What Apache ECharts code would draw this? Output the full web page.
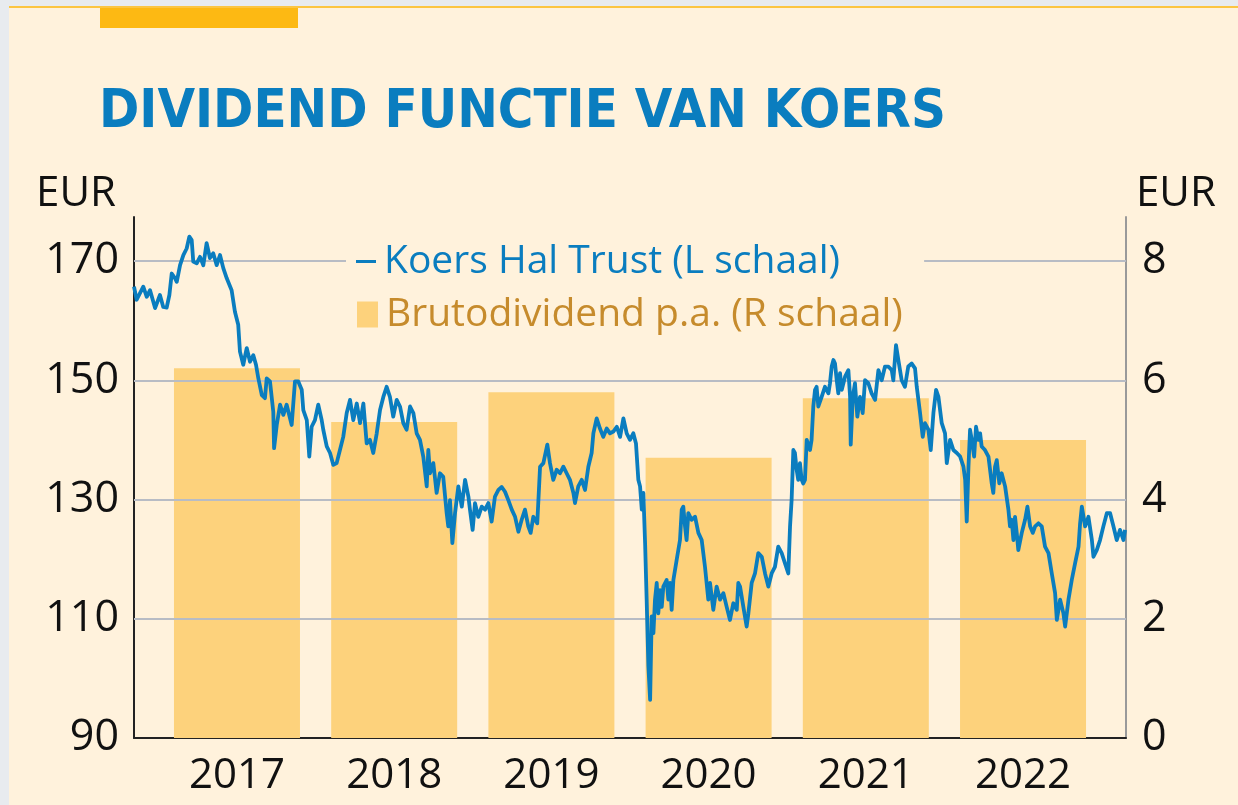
<!DOCTYPE html>
<html><head><meta charset="utf-8">
<script src="https://cdn.jsdelivr.net/npm/echarts@6/dist/echarts.min.js"></script>
<style>html,body{margin:0;padding:0;background:#e8ebef}#c{width:1238px;height:805px}</style>
</head><body><div id="c"></div>
<script>
const years = [2017, 2018, 2019, 2020, 2021, 2022];
const dividend = [6.2, 5.3, 5.8, 4.7, 5.7, 5.0];
const leftTicks = [90, 110, 130, 150, 170];
const rightTicks = [0, 2, 4, 6, 8];
const lineName = 'Koers Hal Trust (L schaal)';
const barName = 'Brutodividend p.a. (R schaal)';
const koersDates = [
2016.845,2016.862,2016.904,2016.926,2016.947,2016.979,2017.010,2017.031,2017.053,2017.070,2017.085,2017.106,2017.117,2017.138,2017.159,2017.180,2017.197,2017.212,2017.222,2017.244,2017.265,2017.286,2017.307,2017.328,2017.349,2017.371,2017.392,2017.413,2017.435,2017.466,2017.487,2017.508,2017.519,2017.540,2017.562,2017.583,2017.604,2017.621,2017.636,2017.658,2017.678,2017.689,2017.710,2017.731,2017.736,2017.753,2017.774,2017.795,2017.816,2017.848,2017.869,
2017.890,2017.912,2017.922,2017.944,2017.960,2017.975,2017.996,2018.017,2018.039,2018.049,2018.071,2018.092,2018.113,2018.134,2018.155,2018.176,2018.198,2018.219,2018.240,2018.262,2018.283,2018.304,2018.325,2018.346,2018.367,2018.389,2018.410,2018.431,2018.452,2018.473,2018.494,2018.516,2018.537,2018.558,2018.579,2018.601,2018.622,2018.643,2018.664,2018.685,2018.707,2018.717,2018.728,2018.749,2018.770,2018.791,2018.812,2018.834,2018.844,2018.855,2018.870,2018.887,2018.908,2018.930,2018.951,2018.972,
2018.982,2018.999,2019.014,2019.035,2019.057,2019.078,2019.099,2019.120,2019.141,2019.163,2019.184,2019.205,2019.226,2019.248,2019.269,2019.290,2019.311,2019.332,2019.353,2019.368,2019.385,2019.410,2019.428,2019.449,2019.474,2019.491,2019.512,2019.534,2019.555,2019.576,2019.597,2019.618,2019.640,2019.650,2019.671,2019.693,2019.714,2019.735,2019.756,2019.767,2019.788,2019.809,2019.830,2019.852,2019.873,2019.894,2019.916,2019.937,2019.958,2019.979,2020.000,2020.021,2020.038,
2020.053,2020.064,2020.075,2020.085,2020.096,2020.106,2020.117,2020.128,2020.138,2020.149,2020.159,2020.170,2020.180,2020.191,2020.202,2020.212,2020.233,2020.244,2020.255,2020.265,2020.276,2020.297,2020.318,2020.329,2020.339,2020.350,2020.360,2020.371,2020.392,2020.414,2020.435,2020.456,2020.477,2020.498,2020.509,2020.530,2020.551,2020.573,2020.594,2020.615,2020.636,2020.657,2020.679,2020.689,2020.700,2020.721,2020.742,2020.753,2020.774,2020.795,2020.816,2020.838,2020.859,2020.880,2020.901,2020.922,2020.943,2020.965,2020.986,2021.007,2021.018,2021.028,2021.039,
2021.049,2021.060,2021.070,2021.081,2021.092,2021.102,2021.113,2021.124,2021.145,2021.155,2021.166,2021.177,2021.187,2021.198,2021.219,2021.240,2021.262,2021.272,2021.283,2021.294,2021.304,2021.315,2021.325,2021.336,2021.347,2021.368,2021.389,2021.400,2021.404,2021.417,2021.431,2021.446,2021.463,2021.480,2021.495,2021.516,2021.537,2021.559,2021.580,2021.601,2021.622,2021.643,2021.665,2021.675,2021.692,2021.707,2021.728,2021.749,2021.770,2021.792,2021.813,2021.824,2021.845,2021.862,2021.876,2021.898,2021.913,2021.930,2021.947,2021.962,2021.983,2022.004,2022.015,2022.036,
2022.057,2022.079,2022.100,2022.121,2022.132,2022.142,2022.153,2022.163,2022.174,2022.189,2022.201,2022.216,2022.227,2022.237,2022.258,2022.280,2022.301,2022.311,2022.322,2022.333,2022.349,2022.364,2022.386,2022.407,2022.417,2022.428,2022.439,2022.449,2022.460,2022.470,2022.492,2022.513,2022.528,2022.545,2022.562,2022.577,2022.598,2022.619,2022.640,2022.662,2022.683,2022.704,2022.715,2022.736,2022.757,2022.768,2022.789,2022.810,2022.831,2022.853,2022.863,2022.874,2022.895,2022.916,2022.938,2022.948,2022.969,2022.990,2023.011,2023.033,2023.054,2023.075,2023.096,2023.117,2023.139,2023.149
];
const koersValues = [
165.7,163.5,165.7,164.0,165.1,162.1,164.3,162.3,162.2,164.3,167.9,167.1,166.5,169.3,171.0,172.1,174.1,173.5,169.9,169.6,170.7,169.3,173.0,170.5,171.3,169.3,171.0,168.8,167.1,165.1,161.5,159.3,154.8,152.6,155.4,153.1,154.2,152.6,150.3,147.5,147.0,150.3,149.8,144.7,138.6,142.5,145.9,144.2,145.9,142.5,149.8,
149.8,148.4,145.0,143.3,137.2,142.2,143.3,145.9,143.3,141.7,138.9,137.8,135.8,136.1,138.3,140.5,144.5,146.7,143.3,146.1,142.8,146.1,139.4,140.0,137.8,141.1,145.0,147.2,148.9,147.2,143.9,146.7,145.6,142.8,141.7,145.6,144.5,141.1,140.0,137.2,132.2,138.3,134.4,136.1,131.1,134.4,133.8,127.7,125.5,129.9,122.7,127.7,132.2,128.8,133.3,130.5,
128.3,124.9,129.4,127.1,128.8,128.3,129.4,126.3,130.5,131.6,132.1,131.3,129.9,128.3,127.1,124.6,126.6,128.3,125.5,124.4,127.1,126.0,135.5,136.1,139.2,136.1,133.3,135.0,134.4,135.5,134.4,133.3,131.1,129.4,132.2,133.3,131.6,135.5,137.8,141.1,143.6,141.9,140.5,141.9,141.1,141.4,142.2,140.5,143.6,141.1,140.0,141.1,139.4,
133.3,132.2,128.3,131.1,122.7,113.2,102.0,96.4,110.4,107.6,113.2,116.0,110.9,114.8,112.0,115.4,116.5,113.2,116.0,111.5,116.5,119.9,123.2,128.3,128.8,125.5,123.2,127.7,126.6,127.1,124.4,123.2,118.7,113.2,116.0,111.5,115.4,113.2,114.3,112.0,109.8,112.6,111.5,116.0,115.4,112.0,108.7,110.9,116.0,117.6,121.0,120.4,117.6,115.4,117.6,118.7,122.1,121.0,119.3,117.6,125.5,129.9,138.3,
137.8,135.0,133.3,136.1,133.3,132.7,133.3,140.0,138.3,140.0,145.6,148.4,148.9,145.6,147.2,148.9,147.8,149.5,152.3,153.4,152.8,150.0,147.8,151.2,148.4,150.6,151.7,147.2,139.2,147.2,149.5,143.9,147.2,144.5,150.0,149.5,147.8,146.7,151.7,150.0,152.3,152.3,151.7,150.0,155.9,153.4,150.0,148.9,152.3,152.8,152.0,148.9,144.5,140.5,142.8,141.7,138.3,144.5,148.4,147.2,142.8,141.1,136.1,140.0,
138.3,137.8,137.2,135.5,133.3,126.3,135.5,141.7,140.0,137.2,142.2,140.0,141.1,138.9,138.3,137.2,132.7,131.1,135.5,136.6,132.7,134.4,132.2,128.3,125.5,126.6,123.2,127.1,124.4,121.5,124.4,126.6,128.8,125.5,124.4,125.5,126.0,125.5,122.1,121.0,117.6,114.3,109.8,113.2,110.9,108.7,113.2,116.5,119.3,122.1,126.0,128.8,125.5,127.1,123.2,120.4,121.5,123.2,125.5,127.7,127.7,125.5,123.2,124.9,123.2,124.9
];

const CREAM = '#fff2dc';
const BLUE = '#0a7dbf';
const BAR = '#fdd27c';
const labelFont = '"Open Sans", "Noto Sans", sans-serif';

const chart = echarts.init(document.getElementById('c'), null, {renderer: 'canvas'});
chart.setOption({
  backgroundColor: CREAM,
  animation: false,
  graphic: [
    {type: 'rect', left: 0, top: 0, z: 100, shape: {width: 1238, height: 6}, style: {fill: '#e8ebef'}},
    {type: 'rect', left: 0, top: 0, z: 100, shape: {width: 9, height: 805}, style: {fill: '#e8ebef'}},
    {type: 'rect', left: 9, top: 6, z: 100, shape: {width: 1229, height: 2}, style: {fill: '#fcc542'}},
    {type: 'rect', left: 100, top: 8, z: 100, shape: {width: 198, height: 20}, style: {fill: '#fdb913'}}
  ],
  title: {
    text: 'DIVIDEND FUNCTIE VAN KOERS',
    left: 99, top: 86, padding: 0,
    textStyle: {fontFamily: '"Liberation Sans Narrow", "DejaVu Sans Condensed", sans-serif', fontWeight: 'bold', fontSize: 54, color: BLUE}
  },
  legend: [
    {
      data: [{name: lineName, icon: 'rect'}],
      left: 346, top: 240, orient: 'vertical', selectedMode: false,
      itemWidth: 20, itemHeight: 3, padding: [2, 84, 2, 10],
      backgroundColor: CREAM,
      textStyle: {color: BLUE, fontSize: 39, fontFamily: labelFont, padding: [0, 0, 0, 3]}
    },
    {
      data: [{name: barName, icon: 'rect'}],
      left: 357, top: 295, orient: 'vertical', selectedMode: false,
      itemWidth: 21, itemHeight: 26, padding: 0,
      textStyle: {color: '#c68b2c', fontSize: 39, fontFamily: labelFont, padding: [0, 0, 0, 3]}
    }
  ],
  grid: {left: 134, right: 112, top: 217, bottom: 67, containLabel: false},
  xAxis: {
    type: 'value', min: 2016.845, max: 2023.155,
    splitLine: {show: false},
    axisTick: {show: false},
    axisLine: {show: true, lineStyle: {color: '#222', width: 2}},
    axisLabel: {
      customValues: years.map(y => y + 0.5),
      formatter: v => String(Math.floor(v)),
      color: '#111', fontSize: 42, fontFamily: labelFont, margin: 17
    }
  },
  yAxis: [
    {
      type: 'value', min: 90, max: 177.38, position: 'left',
      name: 'EUR', nameLocation: 'end', nameGap: 2,
      nameTextStyle: {align: 'right', color: '#111', fontSize: 42, fontFamily: labelFont, padding: [0, 18, 0, 0]},
      splitLine: {show: false}, axisTick: {show: false},
      axisLine: {show: true, lineStyle: {color: '#222', width: 2}},
      axisLabel: {customValues: leftTicks, color: '#111', fontSize: 43, fontFamily: labelFont, margin: 15}
    },
    {
      type: 'value', min: 0, max: 8.738, position: 'right',
      name: 'EUR', nameLocation: 'end', nameGap: 2,
      nameTextStyle: {align: 'left', color: '#111', fontSize: 42, fontFamily: labelFont, padding: [0, 0, 0, 10]},
      splitLine: {show: false}, axisTick: {show: false},
      axisLine: {show: true, lineStyle: {color: '#9a9a9a', width: 2}},
      axisLabel: {customValues: rightTicks, color: '#111', fontSize: 43, fontFamily: labelFont, margin: 16}
    }
  ],
  series: [
    {
      name: barName, type: 'bar', xAxisIndex: 0, yAxisIndex: 1,
      barWidth: 126, z: 2,
      itemStyle: {color: BAR},
      data: years.map((y, i) => [y + 0.5, dividend[i]])
    },
    {
      name: lineName, type: 'line', xAxisIndex: 0, yAxisIndex: 0,
      showSymbol: false, z: 6,
      lineStyle: {color: BLUE, width: 3.8, join: 'round'},
      itemStyle: {color: BLUE},
      data: koersDates.map((d, i) => [d, koersValues[i]]),
      markLine: {
        silent: true, symbol: 'none', z: 3,
        label: {show: false},
        lineStyle: {color: '#b8bcc4', width: 2, type: 'solid'},
        data: leftTicks.filter(v => v > 90).map(v => ({yAxis: v}))
      }
    }
  ]
});
</script></body></html>
